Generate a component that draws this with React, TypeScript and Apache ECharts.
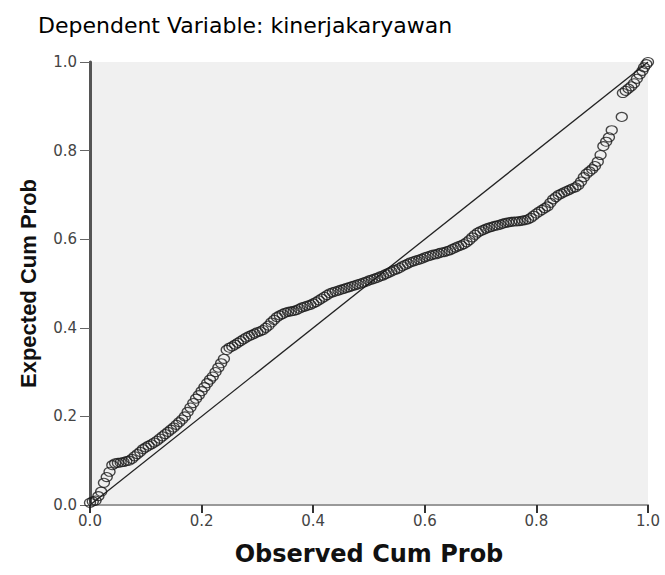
import React, { useEffect, useRef } from "react";
import * as echarts from "echarts";

const observed = [
  0.0, 0.005, 0.01, 0.015, 0.02, 0.025, 0.03, 0.035, 0.04, 0.045, 0.05, 0.055, 0.06, 0.065, 0.07, 0.075,
  0.08, 0.085, 0.09, 0.095, 0.1, 0.105, 0.11, 0.115, 0.12, 0.125, 0.13, 0.135, 0.14, 0.145, 0.15, 0.155,
  0.16, 0.165, 0.17, 0.175, 0.18, 0.185, 0.19, 0.195, 0.2, 0.205, 0.21, 0.215, 0.22, 0.225, 0.23, 0.235,
  0.24, 0.245, 0.25, 0.255, 0.26, 0.265, 0.27, 0.275, 0.28, 0.285, 0.29, 0.295, 0.3, 0.305, 0.31, 0.315,
  0.32, 0.325, 0.33, 0.335, 0.34, 0.345, 0.35, 0.355, 0.36, 0.365, 0.37, 0.375, 0.38, 0.385, 0.39, 0.395,
  0.4, 0.405, 0.41, 0.415, 0.42, 0.425, 0.43, 0.435, 0.44, 0.445, 0.45, 0.455, 0.46, 0.465, 0.47, 0.475,
  0.48, 0.485, 0.49, 0.495, 0.5, 0.505, 0.51, 0.515, 0.52, 0.525, 0.53, 0.535, 0.54, 0.545, 0.55, 0.555,
  0.56, 0.565, 0.57, 0.575, 0.58, 0.585, 0.59, 0.595, 0.6, 0.605, 0.61, 0.615, 0.62, 0.625, 0.63, 0.635,
  0.64, 0.645, 0.65, 0.655, 0.66, 0.665, 0.67, 0.675, 0.68, 0.685, 0.69, 0.695, 0.7, 0.705, 0.71, 0.715,
  0.72, 0.725, 0.73, 0.735, 0.74, 0.745, 0.75, 0.755, 0.76, 0.765, 0.77, 0.775, 0.78, 0.785, 0.79, 0.795,
  0.8, 0.805, 0.81, 0.815, 0.82, 0.825, 0.83, 0.835, 0.84, 0.845, 0.85, 0.855, 0.86, 0.865, 0.87, 0.875,
  0.88, 0.885, 0.89, 0.895, 0.9, 0.905, 0.91, 0.915, 0.92, 0.925, 0.93, 0.935, 0.953, 0.955, 0.96, 0.965,
  0.97, 0.975, 0.98, 0.985, 0.99, 0.993, 0.997, 1.0,
];
const expected = [
  0.005, 0.008, 0.01, 0.02, 0.03, 0.05, 0.063, 0.075, 0.09, 0.094, 0.095, 0.096, 0.097, 0.099, 0.1, 0.104,
  0.11, 0.115, 0.12, 0.126, 0.13, 0.134, 0.137, 0.141, 0.145, 0.15, 0.155, 0.16, 0.165, 0.17, 0.175, 0.181,
  0.187, 0.193, 0.2, 0.21, 0.22, 0.23, 0.24, 0.248, 0.257, 0.266, 0.275, 0.283, 0.29, 0.3, 0.31, 0.32,
  0.33, 0.35, 0.355, 0.358, 0.362, 0.366, 0.37, 0.374, 0.378, 0.381, 0.384, 0.387, 0.39, 0.392, 0.395, 0.4,
  0.405, 0.412, 0.418, 0.424, 0.428, 0.431, 0.434, 0.436, 0.437, 0.438, 0.44, 0.443, 0.446, 0.448, 0.45, 0.452,
  0.455, 0.458, 0.462, 0.466, 0.47, 0.474, 0.478, 0.48, 0.482, 0.484, 0.486, 0.488, 0.49, 0.492, 0.494, 0.496,
  0.498, 0.5, 0.502, 0.504, 0.507, 0.509, 0.511, 0.513, 0.516, 0.518, 0.521, 0.524, 0.527, 0.53, 0.532, 0.535,
  0.539, 0.542, 0.545, 0.548, 0.55, 0.552, 0.554, 0.556, 0.559, 0.561, 0.563, 0.565, 0.566, 0.568, 0.57, 0.571,
  0.573, 0.575, 0.578, 0.581, 0.584, 0.586, 0.589, 0.593, 0.598, 0.604, 0.61, 0.615, 0.618, 0.621, 0.624, 0.626,
  0.628, 0.63, 0.631, 0.633, 0.635, 0.637, 0.638, 0.639, 0.64, 0.64, 0.641, 0.642, 0.643, 0.645, 0.648, 0.653,
  0.658, 0.662, 0.666, 0.67, 0.674, 0.682, 0.69, 0.695, 0.7, 0.703, 0.706, 0.709, 0.712, 0.715, 0.717, 0.722,
  0.73, 0.74, 0.748, 0.753, 0.758, 0.765, 0.775, 0.79, 0.81, 0.82, 0.83, 0.846, 0.876, 0.93, 0.935, 0.94,
  0.945, 0.952, 0.962, 0.972, 0.98, 0.988, 0.995, 1.0,
];
const diagonal = [
  [0, 0],
  [1, 1],
];

const titleText = "Dependent Variable: kinerjakaryawan";
const xName = "Observed Cum Prob";
const yName = "Expected Cum Prob";

export default function App() {
  const ref = useRef<HTMLDivElement>(null);
  useEffect(() => {
    if (!ref.current) return;
    const chart = echarts.init(ref.current, undefined, { renderer: "svg" });
    const points = observed.map((x, i) => [x, expected[i]]);
    const fmt = (v: number) => v.toFixed(1);
    chart.setOption({
      animation: false,
      backgroundColor: "#ffffff",
      title: {
        text: titleText,
        left: 33,
        top: 9,
        textStyle: { fontFamily: "DejaVu Sans", fontSize: 22, fontWeight: "normal", color: "#000" },
      },
      grid: {
        left: 90,
        right: 17,
        top: 62,
        bottom: 70,
        show: true,
        backgroundColor: "#f0f0f0",
        borderWidth: 0,
      },
      xAxis: [
        {
          type: "value",
          min: 0,
          max: 1,
          interval: 0.2,
          position: "bottom",
          name: xName,
          nameLocation: "middle",
          nameGap: 37,
          nameTextStyle: { fontFamily: "DejaVu Sans", fontSize: 24, fontWeight: "bold", color: "#111" },
          axisLine: { show: true, lineStyle: { color: "#c8c8c8", width: 2 } },
          axisTick: { show: true, length: 8, lineStyle: { color: "#333", width: 2 } },
          axisLabel: { formatter: fmt, margin: 8, fontFamily: "DejaVu Sans", fontSize: 15, color: "#444" },
          splitLine: { show: false },
        },
        {
          type: "value",
          min: 0,
          max: 1,
          position: "top",
          axisLine: { show: true, lineStyle: { color: "#999", width: 2 } },
          axisTick: { show: false },
          axisLabel: { show: false },
          splitLine: { show: false },
        },
      ],
      yAxis: [
        {
          type: "value",
          min: 0,
          max: 1,
          interval: 0.2,
          position: "left",
          name: yName,
          nameLocation: "middle",
          nameGap: 51,
          nameRotate: 90,
          nameTextStyle: { fontFamily: "Liberation Sans", fontSize: 22, fontWeight: "bold", color: "#111" },
          axisLine: { show: true, lineStyle: { color: "#333", width: 2 } },
          axisTick: { show: true, length: 10, lineStyle: { color: "#666", width: 1 } },
          axisLabel: { formatter: fmt, margin: 13, fontFamily: "DejaVu Sans", fontSize: 15, color: "#444" },
          splitLine: { show: false },
        },
        {
          type: "value",
          min: 0,
          max: 1,
          position: "right",
          axisLine: { show: true, lineStyle: { color: "#555", width: 3 } },
          axisTick: { show: false },
          axisLabel: { show: false },
          splitLine: { show: false },
        },
      ],
      series: [
        {
          type: "line",
          data: diagonal,
          symbol: "none",
          lineStyle: { color: "#222", width: 1.3 },
          silent: true,
          z: 2,
        },
        {
          type: "scatter",
          data: points,
          symbol: "circle",
          symbolSize: [11, 9],
          itemStyle: { color: "rgba(0,0,0,0)", borderColor: "#1a1a1a", borderWidth: 1.2 },
          z: 3,
        },
      ],
    });
    return () => chart.dispose();
  }, []);
  return (
    <div
      ref={ref}
      style={{ position: "fixed", left: 0, top: 0, width: 665, height: 575, background: "#fff" }}
    />
  );
}
